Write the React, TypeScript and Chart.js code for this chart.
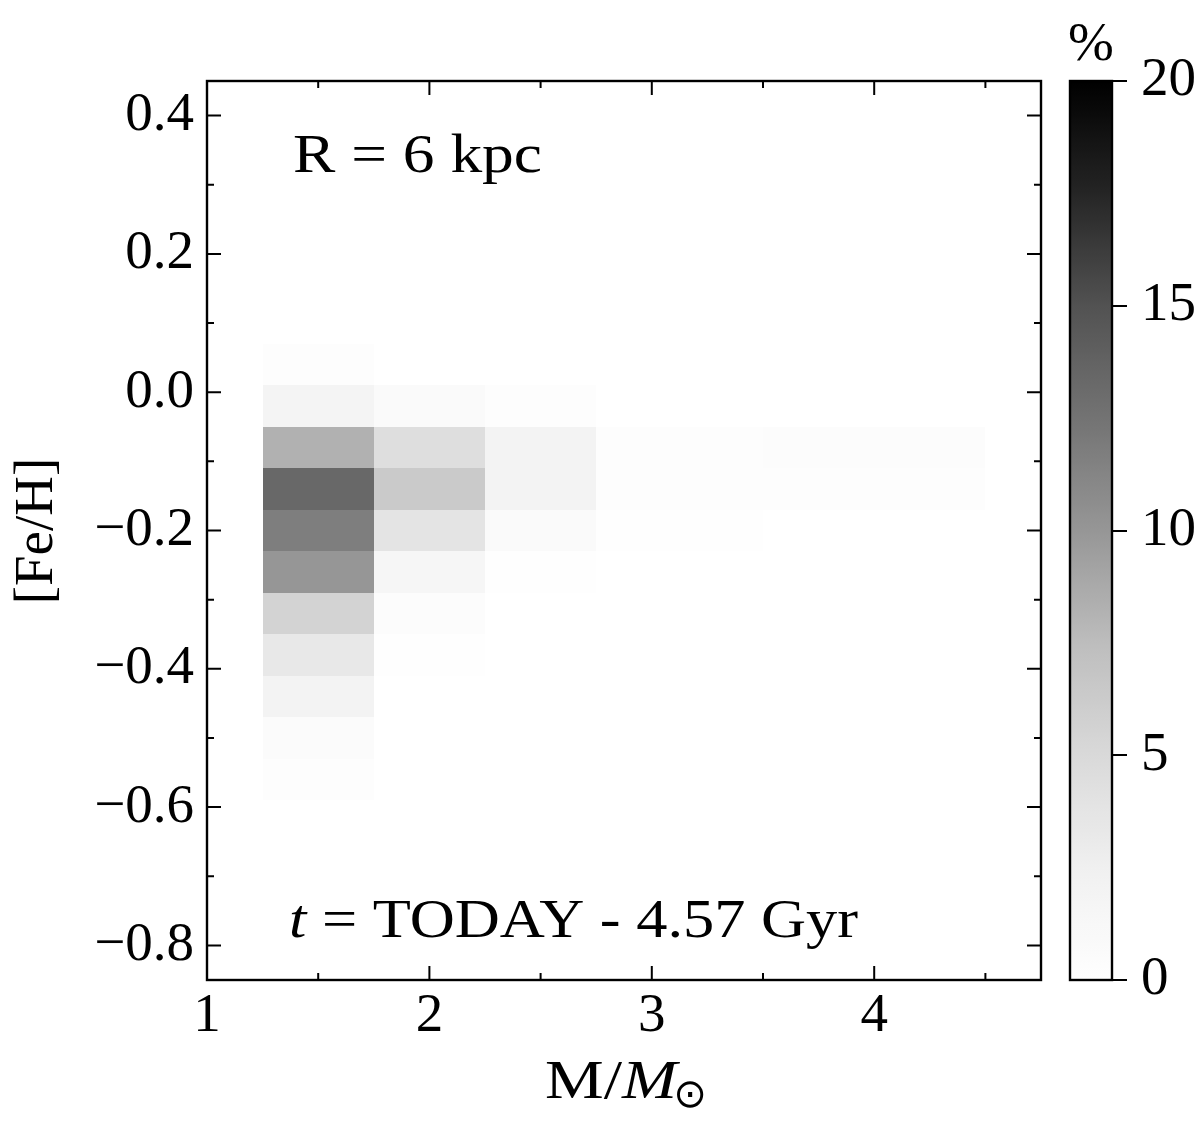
import React, { useEffect, useRef } from 'react';
import { Chart, registerables } from 'chart.js';

Chart.register(...registerables);

// ---- data -------------------------------------------------------------
// mass bin edges (M/Msun) and [Fe/H] bin edges (top to bottom)
const massEdges = [1.25, 1.75, 2.25, 2.75, 3.5, 4.5];
const fehEdges = [0.07, 0.01, -0.05, -0.11, -0.17, -0.23, -0.29, -0.35, -0.41, -0.47, -0.53, -0.59];

// percentage of stars per [Fe/H] bin (top to bottom), one array per mass bin
const pctMassBin1 = [0.3, 1.8, 8.3, 13.3, 11.7, 10.0, 5.5, 3.4, 2.0, 0.7, 0.3];
const pctMassBin2 = [0, 0.8, 4.5, 6.3, 3.8, 1.5, 0.5, 0.15, 0, 0, 0];
const pctMassBin3 = [0, 0.3, 2.0, 2.0, 0.8, 0.2, 0, 0, 0, 0, 0];
const pctMassBin4 = [0, 0, 0.3, 0.3, 0.1, 0, 0, 0, 0, 0, 0];
const pctMassBin5 = [0, 0, 0.45, 0.3, 0, 0, 0, 0, 0, 0, 0];
const columns = [pctMassBin1, pctMassBin2, pctMassBin3, pctMassBin4, pctMassBin5];

const xMajorTicks = [1, 2, 3, 4];
const xMinorTicks = [1.5, 2.5, 3.5, 4.5];
const yMajorTicks = [0.4, 0.2, 0, -0.2, -0.4, -0.6, -0.8];
const yMinorTicks = [0.3, 0.1, -0.1, -0.3, -0.5, -0.7];
const cbTicks = [0, 5, 10, 15, 20];
const cbMax = 20;

const topLabel = 'R = 6 kpc';
const bottomLabelItalic = 't';
const bottomLabelRest = ' = TODAY - 4.57 Gyr';

// ---- styling ----------------------------------------------------------
const FONT = '"Liberation Serif", "Times New Roman", serif';
const FS = 55;
const GREYS = ['#ffffff', '#f0f0f0', '#d9d9d9', '#bdbdbd', '#969696', '#737373', '#525252', '#252525', '#000000'];

function hexToRgb(h: string) {
  return [parseInt(h.slice(1, 3), 16), parseInt(h.slice(3, 5), 16), parseInt(h.slice(5, 7), 16)];
}
function greys(t: number) {
  const c = Math.max(0, Math.min(1, t)) * (GREYS.length - 1);
  const i = Math.min(GREYS.length - 2, Math.floor(c));
  const f = c - i;
  const a = hexToRgb(GREYS[i]);
  const b = hexToRgb(GREYS[i + 1]);
  const r = a.map((v, k) => Math.round(v + (b[k] - v) * f));
  return `rgb(${r[0]},${r[1]},${r[2]})`;
}

function fmtY(v: number) {
  const s = Math.abs(v).toFixed(1);
  return v < -1e-9 ? '\u2212' + s : s;
}

const heatPoints = columns.flatMap((col, i) =>
  col.map((v, j) => ({
    x: (massEdges[i] + massEdges[i + 1]) / 2,
    y: (fehEdges[j] + fehEdges[j + 1]) / 2,
    v,
    i,
    j,
  }))
);

type Part = { text: string; font: string };
function drawFitted(ctx: CanvasRenderingContext2D, parts: Part[], x: number, y: number, width: number) {
  let total = 0;
  parts.forEach((p) => {
    ctx.font = p.font;
    total += ctx.measureText(p.text).width;
  });
  const sx = width / total;
  ctx.save();
  ctx.translate(x, y);
  ctx.scale(sx, 1);
  let cx = 0;
  parts.forEach((p) => {
    ctx.font = p.font;
    ctx.fillText(p.text, cx, 0);
    cx += ctx.measureText(p.text).width;
  });
  ctx.restore();
}

const heatmapPlugin = {
  id: 'heatmap',
  beforeDatasetsDraw(chart: any) {
    const { ctx, chartArea, scales } = chart;
    const xs = scales.x;
    const ys = scales.y;
    ctx.save();
    ctx.beginPath();
    ctx.rect(chartArea.left, chartArea.top, chartArea.right - chartArea.left, chartArea.bottom - chartArea.top);
    ctx.clip();
    heatPoints.forEach((p) => {
      if (p.v <= 0) return;
      const x0 = Math.round(xs.getPixelForValue(massEdges[p.i]));
      const x1 = Math.round(xs.getPixelForValue(massEdges[p.i + 1]));
      const y0 = Math.round(ys.getPixelForValue(fehEdges[p.j]));
      const y1 = Math.round(ys.getPixelForValue(fehEdges[p.j + 1]));
      ctx.fillStyle = greys(p.v / cbMax);
      ctx.fillRect(x0, y0, x1 - x0, y1 - y0);
    });
    ctx.restore();
  },
  afterDraw(chart: any) {
    const { ctx, chartArea, scales } = chart;
    const xs = scales.x;
    const ys = scales.y;
    const { left, right, top, bottom } = chartArea;
    ctx.save();
    ctx.strokeStyle = '#000';
    ctx.lineWidth = 2.4;
    ctx.strokeRect(left, top, right - left, bottom - top);
    ctx.lineWidth = 2;
    const major = 14;
    const minor = 7;
    ctx.beginPath();
    const xt = (vals: number[], len: number) =>
      vals.forEach((v) => {
        const px = xs.getPixelForValue(v);
        if (px < left - 0.5 || px > right + 0.5) return;
        ctx.moveTo(px, bottom);
        ctx.lineTo(px, bottom - len);
        ctx.moveTo(px, top);
        ctx.lineTo(px, top + len);
      });
    const yt = (vals: number[], len: number) =>
      vals.forEach((v) => {
        const py = ys.getPixelForValue(v);
        if (py < top - 0.5 || py > bottom + 0.5) return;
        ctx.moveTo(left, py);
        ctx.lineTo(left + len, py);
        ctx.moveTo(right, py);
        ctx.lineTo(right - len, py);
      });
    xt(xMajorTicks, major);
    xt(xMinorTicks, minor);
    yt(yMajorTicks, major);
    yt(yMinorTicks, minor);
    ctx.stroke();

    // annotations
    ctx.fillStyle = '#000';
    ctx.textBaseline = 'alphabetic';
    ctx.textAlign = 'left';
    const reg = `${FS}px ${FONT}`;
    const ita = `italic ${FS}px ${FONT}`;
    drawFitted(ctx, [{ text: topLabel, font: reg }], 293, 172, 249);
    drawFitted(
      ctx,
      [
        { text: bottomLabelItalic, font: ita },
        { text: bottomLabelRest, font: reg },
      ],
      289,
      937,
      569
    );

    // x axis title: M/M_sun
    drawFitted(
      ctx,
      [
        { text: 'M/', font: reg },
        { text: 'M', font: ita },
      ],
      545,
      1098,
      132
    );
    ctx.save();
    ctx.font = `40px "DejaVu Sans", sans-serif`;
    ctx.textAlign = 'center';
    ctx.textBaseline = 'middle';
    ctx.fillText('\u2299', 690, 1097);
    ctx.restore();

    // y axis title
    ctx.save();
    ctx.translate(52, 531);
    ctx.rotate(-Math.PI / 2);
    ctx.textAlign = 'center';
    ctx.font = reg;
    ctx.fillText('[Fe/H]', 0, 0);
    ctx.restore();

    ctx.restore();
  },
};

const colorbarPlugin = {
  id: 'colorbar',
  beforeDatasetsDraw(chart: any) {
    const { ctx, chartArea, scales } = chart;
    const s = scales.y;
    const yTop = s.getPixelForValue(cbMax);
    const yBot = s.getPixelForValue(0);
    const g = ctx.createLinearGradient(0, yBot, 0, yTop);
    for (let k = 0; k <= 64; k++) {
      const t = k / 64;
      g.addColorStop(t, greys(t));
    }
    ctx.save();
    ctx.fillStyle = g;
    ctx.fillRect(chartArea.left, yTop, chartArea.right - chartArea.left, yBot - yTop);
    ctx.restore();
  },
  afterDraw(chart: any) {
    const { ctx, chartArea } = chart;
    ctx.save();
    ctx.strokeStyle = '#000';
    ctx.lineWidth = 2.4;
    ctx.strokeRect(chartArea.left, chartArea.top, chartArea.right - chartArea.left, chartArea.bottom - chartArea.top);
    ctx.fillStyle = '#000';
    ctx.font = `${FS}px ${FONT}`;
    ctx.textAlign = 'center';
    ctx.textBaseline = 'alphabetic';
    ctx.fillText('%', (chartArea.left + chartArea.right) / 2, 60);
    ctx.restore();
  },
};

export default function App() {
  const mainRef = useRef<HTMLCanvasElement | null>(null);
  const cbRef = useRef<HTMLCanvasElement | null>(null);

  useEffect(() => {
    if (!mainRef.current || !cbRef.current) return;
    const tickFont = { family: FONT, size: FS };
    const main = new Chart(mainRef.current, {
      type: 'scatter',
      data: {
        datasets: [
          {
            label: 'percentage',
            data: heatPoints.map((p) => ({ x: p.x, y: p.y })),
            pointRadius: 0,
            pointHoverRadius: 0,
            showLine: false,
          },
        ],
      },
      options: {
        responsive: false,
        animation: false,
        devicePixelRatio: 1,
        events: [],
        layout: { padding: { left: 0, top: 81, right: 159, bottom: 0 } },
        plugins: { legend: { display: false }, tooltip: { enabled: false } },
        scales: {
          x: {
            type: 'linear',
            min: 1,
            max: 4.75,
            grid: { display: false, drawTicks: false },
            border: { display: false },
            afterBuildTicks: (scale: any) => {
              scale.ticks = xMajorTicks.map((v) => ({ value: v }));
            },
            afterFit: (scale: any) => {
              scale.height = 145;
            },
            ticks: {
              font: tickFont,
              color: '#000',
              padding: 4,
              autoSkip: false,
              maxRotation: 0,
              callback: (v: any) => String(v),
            },
          },
          y: {
            type: 'linear',
            min: -0.85,
            max: 0.45,
            grid: { display: false, drawTicks: false },
            border: { display: false },
            afterBuildTicks: (scale: any) => {
              scale.ticks = yMajorTicks.map((v) => ({ value: v }));
            },
            afterFit: (scale: any) => {
              scale.width = 207;
            },
            ticks: {
              font: tickFont,
              color: '#000',
              padding: 13,
              autoSkip: false,
              callback: (v: any) => fmtY(Number(v)),
            },
          },
        },
      },
      plugins: [heatmapPlugin],
    } as any);

    const cb = new Chart(cbRef.current, {
      type: 'bar',
      data: { labels: [], datasets: [] },
      options: {
        responsive: false,
        animation: false,
        devicePixelRatio: 1,
        events: [],
        layout: { padding: { left: 30, top: 81, right: 0, bottom: 145 } },
        plugins: { legend: { display: false }, tooltip: { enabled: false } },
        scales: {
          x: { display: false },
          y: {
            type: 'linear',
            position: 'right',
            min: 0,
            max: cbMax,
            grid: { display: true, drawOnChartArea: false, drawTicks: true, tickLength: 15, color: '#000', lineWidth: 2 },
            border: { display: false },
            afterBuildTicks: (scale: any) => {
              scale.ticks = cbTicks.map((v) => ({ value: v }));
            },
            afterFit: (scale: any) => {
              scale.width = 88;
            },
            ticks: {
              font: tickFont,
              color: '#000',
              padding: 14,
              autoSkip: false,
              callback: (v: any) => String(v),
            },
          },
        },
      },
      plugins: [colorbarPlugin],
    } as any);

    return () => {
      main.destroy();
      cb.destroy();
    };
  }, []);

  return (
    <div style={{ position: 'absolute', left: 0, top: 0, width: 1200, height: 1125, background: '#fff' }}>
      <canvas
        ref={mainRef}
        width={1200}
        height={1125}
        style={{ position: 'absolute', left: 0, top: 0, width: 1200, height: 1125 }}
      />
      <canvas
        ref={cbRef}
        width={160}
        height={1125}
        style={{ position: 'absolute', left: 1040, top: 0, width: 160, height: 1125 }}
      />
    </div>
  );
}
